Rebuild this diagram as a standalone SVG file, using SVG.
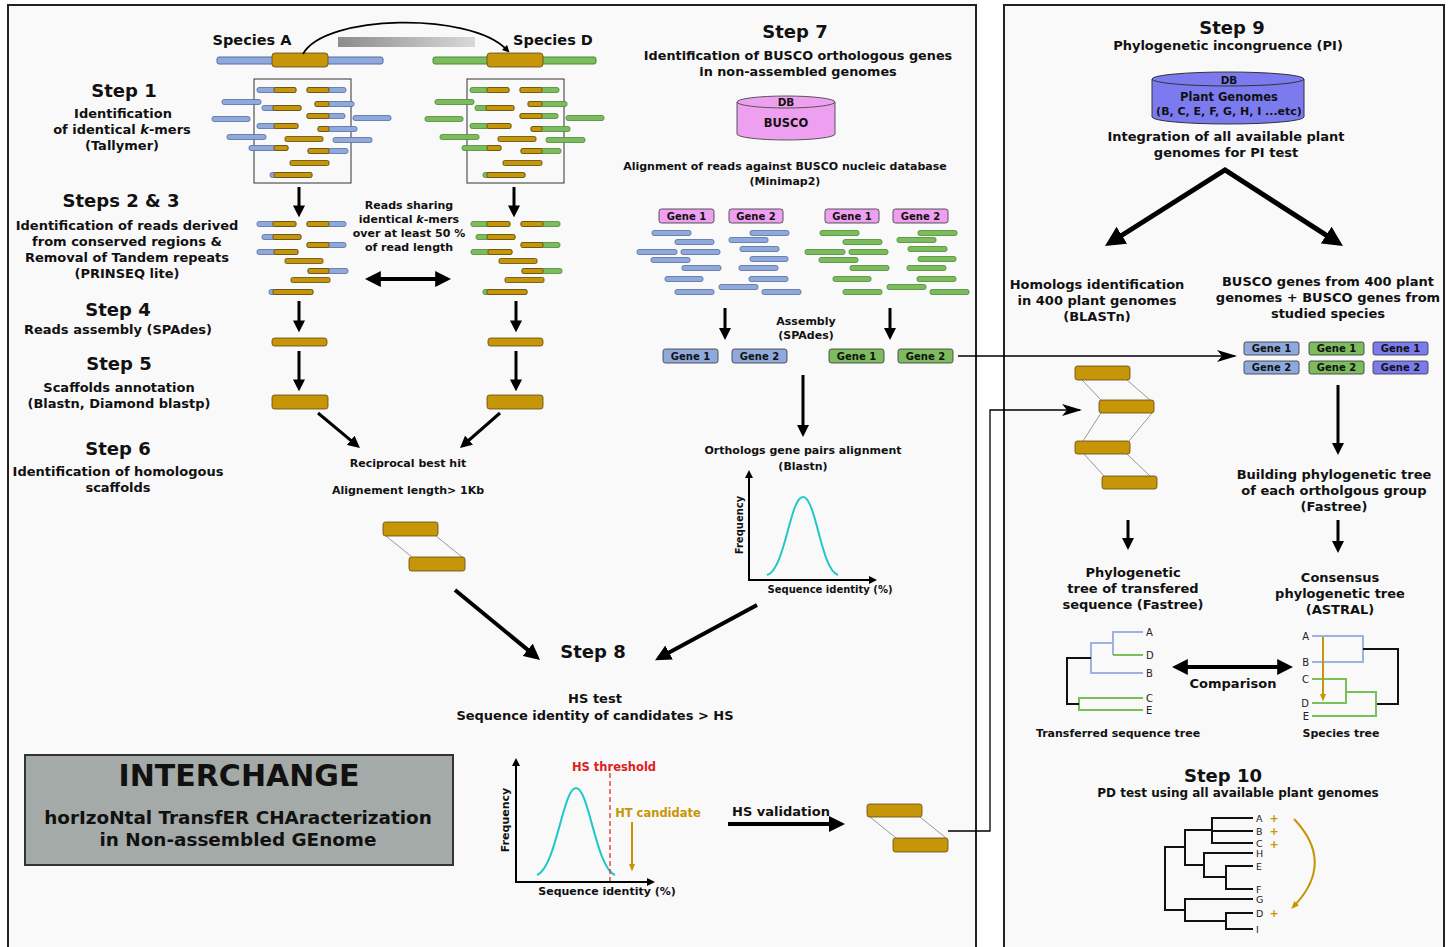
<svg xmlns="http://www.w3.org/2000/svg" width="1449" height="947" viewBox="0 0 1449 947">
<style>
.t{font-family:"DejaVu Sans","Liberation Sans",sans-serif;font-weight:bold;fill:#111;text-anchor:middle}
.h{font-size:18px}
.b{font-size:13px}
.s{font-size:11px}
.gt{font-size:10px}
.lf{font-family:"DejaVu Sans","Liberation Sans",sans-serif;font-size:10px;fill:#222}
.pl{font-family:"DejaVu Sans","Liberation Sans",sans-serif;font-size:11px;font-weight:bold;fill:#c79508;text-anchor:middle}
.gold{fill:#c79508;stroke:#5e4a10;stroke-width:0.8}
.pan{fill:#f9f9f9;stroke:#222;stroke-width:2}
.ar{fill:none;stroke:#000;marker-end:url(#ah)}
.dar{fill:none;stroke:#000;marker-end:url(#ah);marker-start:url(#ah)}
.thin{fill:none;stroke:#000;stroke-width:1.3;marker-end:url(#ahs)}
.gl{stroke:#999;stroke-width:1;fill:none}
.tb{fill:none;stroke:#9db2e2;stroke-width:2}
.tg{fill:none;stroke:#7cbf5a;stroke-width:2}
.tk{fill:none;stroke:#111;stroke-width:2}
.gene{stroke:#444;stroke-width:0.9}
.pk{fill:#ef9ff0}
.bl{fill:#8fa9dc}
.gr{fill:#7dbb5f}
.pu{fill:#7b7bef}
</style>
<defs>
<marker id="ah" viewBox="0 0 10 10" refX="3" refY="5" markerWidth="4" markerHeight="4" orient="auto-start-reverse"><path d="M0,0L10,5L0,10z" fill="#000"/></marker>
<marker id="ahs" viewBox="0 0 20 12" refX="18" refY="6" markerWidth="20" markerHeight="12" markerUnits="userSpaceOnUse" orient="auto"><path d="M0,0L20,6L0,12L5,6z" fill="#000"/></marker>
<marker id="ahg" viewBox="0 0 10 10" refX="3" refY="5" markerWidth="4" markerHeight="4" orient="auto"><path d="M0,1L10,5L0,9z" fill="#c79508"/></marker>
<linearGradient id="gb" x1="0" y1="0" x2="1" y2="0"><stop offset="0" stop-color="#8c8c8c"/><stop offset="1" stop-color="#d9d9d9"/></linearGradient>
<g id="r1">
<rect x="257" y="87.5" width="39" height="5" rx="2"/><rect x="274" y="87.5" width="22" height="5" rx="1.5" fill="#c79508" stroke="#5e4a10"/>
<rect x="307" y="87.5" width="39" height="5" rx="2"/><rect x="307" y="87.5" width="22" height="5" rx="1.5" fill="#c79508" stroke="#5e4a10"/>
<rect x="222" y="99.5" width="39" height="5" rx="2"/>
<rect x="262" y="105.5" width="39" height="5" rx="2"/><rect x="273" y="105.5" width="28" height="5" rx="1.5" fill="#c79508" stroke="#5e4a10"/>
<rect x="315" y="101.5" width="39" height="5" rx="2"/><rect x="315" y="101.5" width="14" height="5" rx="1.5" fill="#c79508" stroke="#5e4a10"/>
<rect x="212" y="116.5" width="38" height="5" rx="2"/>
<rect x="307" y="113.5" width="38" height="5" rx="2"/><rect x="307" y="113.5" width="22" height="5" rx="1.5" fill="#c79508" stroke="#5e4a10"/>
<rect x="353" y="115.5" width="38" height="5" rx="2"/>
<rect x="257" y="123.5" width="41" height="5" rx="2"/><rect x="274" y="123.5" width="24" height="5" rx="1.5" fill="#c79508" stroke="#5e4a10"/>
<rect x="318" y="126.5" width="39" height="5" rx="2"/><rect x="318" y="126.5" width="11" height="5" rx="1.5" fill="#c79508" stroke="#5e4a10"/>
<rect x="227" y="134.5" width="39" height="5" rx="2"/>
<rect x="285" y="136.5" width="38" height="5" rx="1.5" fill="#c79508" stroke="#5e4a10"/>
<rect x="333" y="137.5" width="39" height="5" rx="2"/>
<rect x="249" y="145.5" width="39" height="5" rx="2"/><rect x="274" y="145.5" width="14" height="5" rx="1.5" fill="#c79508" stroke="#5e4a10"/>
<rect x="308" y="148.5" width="40" height="5" rx="2"/><rect x="308" y="148.5" width="21" height="5" rx="1.5" fill="#c79508" stroke="#5e4a10"/>
<rect x="290" y="160.5" width="39" height="5" rx="1.5" fill="#c79508" stroke="#5e4a10"/>
<rect x="270" y="172.5" width="42" height="5" rx="2"/><rect x="274" y="172.5" width="38" height="5" rx="1.5" fill="#c79508" stroke="#5e4a10"/>
</g>
<g id="r2">
<rect x="257" y="221.5" width="39" height="5" rx="2"/><rect x="273" y="221.5" width="23" height="5" rx="1.5" fill="#c79508" stroke="#5e4a10"/>
<rect x="307" y="221.5" width="39" height="5" rx="2"/><rect x="307" y="221.5" width="22" height="5" rx="1.5" fill="#c79508" stroke="#5e4a10"/>
<rect x="262" y="234.5" width="39" height="5" rx="2"/><rect x="273" y="234.5" width="28" height="5" rx="1.5" fill="#c79508" stroke="#5e4a10"/>
<rect x="307" y="242.5" width="39" height="5" rx="2"/><rect x="307" y="242.5" width="22" height="5" rx="1.5" fill="#c79508" stroke="#5e4a10"/>
<rect x="257" y="249.5" width="41" height="5" rx="2"/><rect x="274" y="249.5" width="24" height="5" rx="1.5" fill="#c79508" stroke="#5e4a10"/>
<rect x="285" y="258.5" width="38" height="5" rx="1.5" fill="#c79508" stroke="#5e4a10"/>
<rect x="308" y="268.5" width="40" height="5" rx="2"/><rect x="308" y="268.5" width="21" height="5" rx="1.5" fill="#c79508" stroke="#5e4a10"/>
<rect x="291" y="277.5" width="39" height="5" rx="1.5" fill="#c79508" stroke="#5e4a10"/>
<rect x="269" y="289.5" width="44" height="5" rx="2"/><rect x="273" y="289.5" width="40" height="5" rx="1.5" fill="#c79508" stroke="#5e4a10"/>
</g>
<g id="r3">
<rect x="652" y="230.5" width="39" height="5" rx="2"/><rect x="675" y="239.5" width="39" height="5" rx="2"/>
<rect x="637" y="249.5" width="40" height="5" rx="2"/><rect x="681" y="249.5" width="39" height="5" rx="2"/>
<rect x="651" y="257.5" width="39" height="5" rx="2"/><rect x="682" y="265.5" width="39" height="5" rx="2"/>
<rect x="665" y="276.5" width="38" height="5" rx="2"/><rect x="675" y="289.5" width="39" height="5" rx="2"/>
<rect x="750" y="230.5" width="39" height="5" rx="2"/><rect x="729" y="237.5" width="39" height="5" rx="2"/>
<rect x="740" y="246.5" width="39" height="5" rx="2"/><rect x="750" y="256.5" width="38" height="5" rx="2"/>
<rect x="739" y="265.5" width="39" height="5" rx="2"/><rect x="749" y="276.5" width="39" height="5" rx="2"/>
<rect x="719" y="284.5" width="39" height="5" rx="2"/><rect x="762" y="289.5" width="39" height="5" rx="2"/>
</g>
</defs>

<rect x="0" y="0" width="1449" height="947" fill="#fff"/>
<rect class="pan" x="8" y="5" width="968" height="960"/>
<rect class="pan" x="1004" y="5" width="440" height="960"/>

<g id="species">
<text class="t" x="252" y="45" style="font-size:14.5px">Species A</text>
<text class="t" x="553" y="45" style="font-size:14.5px">Species D</text>
<rect x="338" y="37" width="137" height="10" fill="url(#gb)"/>
<rect x="217" y="57" width="166" height="7" rx="2" class="bl" stroke="#566c9c"/>
<rect x="272" y="53" width="56" height="14" rx="3" class="gold"/>
<rect x="433" y="57" width="163" height="7" rx="2" class="gr" stroke="#4a8a30"/>
<rect x="487" y="53" width="56" height="14" rx="3" class="gold"/>
</g>

<g id="step1">
<text class="t h" x="124" y="97">Step 1</text>
<text class="t b" x="123" y="118">Identification</text>
<text class="t b" x="122" y="134">of identical <tspan font-style="italic">k</tspan>-mers</text>
<text class="t b" x="122" y="150">(Tallymer)</text>
<rect x="254" y="79" width="97" height="104" fill="none" stroke="#333" stroke-width="1"/>
<rect x="467" y="79" width="97" height="104" fill="none" stroke="#333" stroke-width="1"/>
<use href="#r1" fill="#8fa9dc" stroke="#566c9c" stroke-width="0.8"/>
<use href="#r1" x="213" fill="#7dbb5f" stroke="#4a8a30" stroke-width="0.8"/>
</g>

<g id="step23">
<text class="t h" x="121" y="207">Steps 2 &amp; 3</text>
<text class="t b" x="127" y="230">Identification of reads derived</text>
<text class="t b" x="127" y="246">from conserved regions &amp;</text>
<text class="t b" x="127" y="262">Removal of Tandem repeats</text>
<text class="t b" x="127" y="278">(PRINSEQ lite)</text>
<use href="#r2" fill="#8fa9dc" stroke="#566c9c" stroke-width="0.8"/>
<use href="#r2" x="214" fill="#7dbb5f" stroke="#4a8a30" stroke-width="0.8"/>
<text class="t s" x="409" y="209">Reads sharing</text>
<text class="t s" x="409" y="223">identical <tspan font-style="italic">k</tspan>-mers</text>
<text class="t s" x="409" y="237">over at least 50 %</text>
<text class="t s" x="409" y="251">of read length</text>
</g>

<g id="step4">
<text class="t h" x="118" y="316">Step 4</text>
<text class="t b" x="118" y="334">Reads assembly (SPAdes)</text>
<rect x="272" y="338" width="55" height="8" rx="2.5" class="gold"/>
<rect x="488" y="338" width="55" height="8" rx="2.5" class="gold"/>
</g>

<g id="step5">
<text class="t h" x="119" y="370">Step 5</text>
<text class="t b" x="119" y="392">Scaffolds annotation</text>
<text class="t b" x="119" y="408">(Blastn, Diamond blastp)</text>
<rect x="272" y="395" width="56" height="14" rx="2.5" class="gold"/>
<rect x="487" y="395" width="56" height="14" rx="2.5" class="gold"/>
</g>

<g id="step6">
<text class="t h" x="118" y="455">Step 6</text>
<text class="t b" x="118" y="476">Identification of homologous</text>
<text class="t b" x="118" y="492">scaffolds</text>
<text class="t s" x="408" y="467">Reciprocal best hit</text>
<text class="t s" x="408" y="494">Alignement length&gt; 1Kb</text>
<line class="gl" x1="386" y1="536" x2="412" y2="557"/>
<line class="gl" x1="436" y1="536" x2="462" y2="557"/>
<rect x="383" y="522" width="55" height="14" rx="2.5" class="gold"/>
<rect x="409" y="557" width="56" height="14" rx="2.5" class="gold"/>
</g>

<g id="step7">
<text class="t h" x="795" y="38">Step 7</text>
<text class="t b" x="798" y="60" style="font-size:12.8px">Identification of BUSCO orthologous genes</text>
<text class="t b" x="798" y="76" style="font-size:12.8px">in non-assembled genomes</text>
<path d="M737,102 V134 A49,6 0 0 0 835,134 V102 Z" class="pk" stroke="#555" stroke-width="1"/>
<ellipse cx="786" cy="102" rx="49" ry="6" class="pk" stroke="#555" stroke-width="1"/>
<text class="t" x="786" y="106" style="font-size:10.5px">DB</text>
<text class="t" x="786" y="127" style="font-size:11.5px">BUSCO</text>
<text class="t s" x="785" y="170">Alignment of reads against BUSCO nucleic database</text>
<text class="t s" x="785" y="185">(Minimap2)</text>
<rect x="659" y="209" width="55" height="14" rx="2.5" class="pk gene"/>
<rect x="729" y="209" width="54" height="14" rx="2.5" class="pk gene"/>
<rect x="825" y="209" width="54" height="14" rx="2.5" class="pk gene"/>
<rect x="893" y="209" width="55" height="14" rx="2.5" class="pk gene"/>
<text class="t gt" x="686.5" y="219.5">Gene 1</text>
<text class="t gt" x="756" y="219.5">Gene 2</text>
<text class="t gt" x="852" y="219.5">Gene 1</text>
<text class="t gt" x="920.5" y="219.5">Gene 2</text>
<use href="#r3" fill="#8fa9dc" stroke="#566c9c" stroke-width="0.8"/>
<use href="#r3" x="168" fill="#7dbb5f" stroke="#4a8a30" stroke-width="0.8"/>
<text class="t s" x="806" y="325">Assembly</text>
<text class="t s" x="806" y="339">(SPAdes)</text>
<rect x="663" y="349" width="55" height="14" rx="2.5" class="bl gene"/>
<rect x="732" y="349" width="55" height="14" rx="2.5" class="bl gene"/>
<rect x="829" y="349" width="55" height="14" rx="2.5" class="gr gene"/>
<rect x="898" y="349" width="55" height="14" rx="2.5" class="gr gene"/>
<text class="t gt" x="690.5" y="359.5">Gene 1</text>
<text class="t gt" x="759.5" y="359.5">Gene 2</text>
<text class="t gt" x="856.5" y="359.5">Gene 1</text>
<text class="t gt" x="925.5" y="359.5">Gene 2</text>
<text class="t s" x="803" y="454">Orthologs gene pairs alignment</text>
<text class="t s" x="803" y="470">(Blastn)</text>
<path d="M767,575 C785,570 790,497 803,497 C816,497 821,570 838,575" fill="none" stroke="#22c8c8" stroke-width="2"/>
<text class="t" x="0" y="0" style="font-size:10px" transform="translate(743,525) rotate(-90)">Frequency</text>
<text class="t" x="830" y="593" style="font-size:10px">Sequence identity (%)</text>
</g>

<g id="step8">
<text class="t h" x="593" y="658">Step 8</text>
<text class="t b" x="595" y="703">HS test</text>
<text class="t b" x="595" y="720">Sequence identity of candidates &gt; HS</text>
<path d="M537,875 C556,868 563,788 576,788 C589,788 596,868 615,875" fill="none" stroke="#22c8c8" stroke-width="2"/>
<line x1="610" y1="773" x2="610" y2="882" stroke="#e03030" stroke-width="1.3" stroke-dasharray="5,3"/>
<text class="t" x="614" y="771" style="font-size:11.5px;fill:#e02020">HS threshold</text>
<text class="t" x="658" y="817" style="font-size:11.5px;fill:#c79508">HT candidate</text>
<text class="t" x="0" y="0" style="font-size:11px" transform="translate(509,820) rotate(-90)">Frequency</text>
<text class="t" x="607" y="895" style="font-size:11px">Sequence identity (%)</text>
<text class="t b" x="781" y="816">HS validation</text>
<line class="gl" x1="870" y1="817" x2="896" y2="838"/>
<line class="gl" x1="920" y1="817" x2="946" y2="838"/>
<rect x="867" y="804" width="55" height="13" rx="2.5" class="gold"/>
<rect x="893" y="838" width="55" height="14" rx="2.5" class="gold"/>
</g>

<g id="interchange">
<rect x="25" y="755" width="428" height="110" fill="#a4aaa8" stroke="#333" stroke-width="2"/>
<text class="t" x="239" y="786" style="font-size:30px">INTERCHANGE</text>
<text class="t" x="238" y="824" style="font-size:18.4px">horIzoNtal TransfER CHAracterization</text>
<text class="t" x="238" y="846" style="font-size:18.4px">in Non-assembled GEnome</text>
</g>

<g id="step9">
<text class="t h" x="1232" y="34">Step 9</text>
<text class="t b" x="1228" y="50">Phylogenetic incongruence (PI)</text>
<path d="M1152,79 V117 A76,7 0 0 0 1304,117 V79 Z" class="pu" stroke="#333" stroke-width="1"/>
<ellipse cx="1228" cy="79" rx="76" ry="7" class="pu" stroke="#333" stroke-width="1"/>
<text class="t" x="1229" y="84" style="font-size:10.5px">DB</text>
<text class="t" x="1229" y="101" style="font-size:11.5px">Plant Genomes</text>
<text class="t" x="1229" y="115" style="font-size:11px">(B, C, E, F, G, H, I  ...etc)</text>
<text class="t b" x="1226" y="141">Integration of all available plant</text>
<text class="t b" x="1226" y="157">genomes for PI test</text>
<text class="t b" x="1097" y="289">Homologs identification</text>
<text class="t b" x="1097" y="305">in 400 plant genomes</text>
<text class="t b" x="1097" y="321">(BLASTn)</text>
<text class="t b" x="1328" y="286">BUSCO genes from 400 plant</text>
<text class="t b" x="1328" y="302">genomes + BUSCO genes from</text>
<text class="t b" x="1328" y="318">studied species</text>
<rect x="1244" y="342" width="55" height="13" rx="2" class="bl gene"/>
<rect x="1309" y="342" width="55" height="13" rx="2" class="gr gene"/>
<rect x="1373" y="342" width="55" height="13" rx="2" class="pu gene"/>
<rect x="1244" y="361" width="55" height="13" rx="2" class="bl gene"/>
<rect x="1309" y="361" width="55" height="13" rx="2" class="gr gene"/>
<rect x="1373" y="361" width="55" height="13" rx="2" class="pu gene"/>
<text class="t gt" x="1271.5" y="352">Gene 1</text>
<text class="t gt" x="1336.5" y="352">Gene 1</text>
<text class="t gt" x="1400.5" y="352">Gene 1</text>
<text class="t gt" x="1271.5" y="371">Gene 2</text>
<text class="t gt" x="1336.5" y="371">Gene 2</text>
<text class="t gt" x="1400.5" y="371">Gene 2</text>
<line class="gl" x1="1082" y1="380" x2="1101" y2="400"/>
<line class="gl" x1="1127" y1="380" x2="1150" y2="400"/>
<line class="gl" x1="1101" y1="413" x2="1083" y2="441"/>
<line class="gl" x1="1152" y1="413" x2="1129" y2="441"/>
<line class="gl" x1="1084" y1="454" x2="1104" y2="476"/>
<line class="gl" x1="1127" y1="454" x2="1150" y2="476"/>
<rect x="1075" y="366" width="55" height="14" rx="2.5" class="gold"/>
<rect x="1099" y="400" width="55" height="13" rx="2.5" class="gold"/>
<rect x="1075" y="441" width="55" height="13" rx="2.5" class="gold"/>
<rect x="1102" y="476" width="55" height="13" rx="2.5" class="gold"/>
<text class="t b" x="1334" y="479">Building phylogenetic tree</text>
<text class="t b" x="1334" y="495">of each ortholgous group</text>
<text class="t b" x="1334" y="511">(Fastree)</text>
<text class="t b" x="1133" y="577">Phylogenetic</text>
<text class="t b" x="1133" y="593">tree of transfered</text>
<text class="t b" x="1133" y="609">sequence (Fastree)</text>
<text class="t b" x="1340" y="582">Consensus</text>
<text class="t b" x="1340" y="598">phylogenetic tree</text>
<text class="t b" x="1340" y="614">(ASTRAL)</text>
<path class="tb" d="M1143,632 H1113 V655 M1113,643 H1091 V673 H1143"/>
<path class="tg" d="M1113,655 H1143 M1143,698 H1079 V710 H1143"/>
<path class="tk" d="M1091,658 H1067 V704 H1079"/>
<text class="lf" x="1146" y="636">A</text>
<text class="lf" x="1146" y="659">D</text>
<text class="lf" x="1146" y="677">B</text>
<text class="lf" x="1146" y="702">C</text>
<text class="lf" x="1146" y="714">E</text>
<text class="t" x="1233" y="688" style="font-size:13px">Comparison</text>
<path class="tb" d="M1312,636 H1363 V662 H1312"/>
<path class="tk" d="M1363,649 H1398 V704 H1376"/>
<path class="tg" d="M1312,679 H1346 V703 H1312 M1346,692 H1376 V716 H1312"/>
<text class="lf" x="1309" y="640" text-anchor="end">A</text>
<text class="lf" x="1309" y="666" text-anchor="end">B</text>
<text class="lf" x="1309" y="683" text-anchor="end">C</text>
<text class="lf" x="1309" y="707" text-anchor="end">D</text>
<text class="lf" x="1309" y="720" text-anchor="end">E</text>
<line x1="1323" y1="637" x2="1323" y2="696" stroke="#c79508" stroke-width="2" marker-end="url(#ahg)"/>
<text class="t" x="1118" y="737" style="font-size:11px">Transferred sequence tree</text>
<text class="t" x="1341" y="737" style="font-size:11px">Species tree</text>
</g>

<g id="step10">
<text class="t h" x="1223" y="782">Step 10</text>
<text class="t" x="1238" y="797" style="font-size:12px">PD test using all available plant genomes</text>
<path class="tk" d="M1253,818 H1212 V843 H1253 M1212,831 H1253 M1212,830 H1185 V865 H1204 M1253,853 H1204 V877 H1226 M1253,866 H1226 V889 H1253 M1185,847 H1165 V910 H1185 M1253,899 H1185 V921 H1226 M1253,913 H1226 V929 H1253"/>
<text class="lf" x="1256" y="822" style="font-size:9.5px">A</text>
<text class="lf" x="1256" y="835" style="font-size:9.5px">B</text>
<text class="lf" x="1256" y="847" style="font-size:9.5px">C</text>
<text class="lf" x="1256" y="857" style="font-size:9.5px">H</text>
<text class="lf" x="1256" y="870" style="font-size:9.5px">E</text>
<text class="lf" x="1256" y="893" style="font-size:9.5px">F</text>
<text class="lf" x="1256" y="903" style="font-size:9.5px">G</text>
<text class="lf" x="1256" y="917" style="font-size:9.5px">D</text>
<text class="lf" x="1256" y="933" style="font-size:9.5px">I</text>
<text class="pl" x="1274" y="822">+</text>
<text class="pl" x="1274" y="835">+</text>
<text class="pl" x="1274" y="848">+</text>
<text class="pl" x="1274" y="917">+</text>
<path d="M1294,819 Q1335,862 1295,905" fill="none" stroke="#c79508" stroke-width="2" marker-end="url(#ahg)"/>
</g>

<g id="connectors">
<path d="M303,54 C325,14 470,12 506,49" fill="none" stroke="#000" stroke-width="1.8" marker-end="url(#ah)"/>
<line class="ar" stroke-width="3" x1="299" y1="187" x2="299" y2="209"/>
<line class="ar" stroke-width="3" x1="514" y1="187" x2="514" y2="209"/>
<line class="dar" stroke-width="4" x1="376" y1="279" x2="440" y2="279"/>
<line class="ar" stroke-width="3" x1="299" y1="301" x2="299" y2="324"/>
<line class="ar" stroke-width="3" x1="516" y1="301" x2="516" y2="324"/>
<line class="ar" stroke-width="3" x1="299" y1="351" x2="299" y2="383"/>
<line class="ar" stroke-width="3" x1="516" y1="351" x2="516" y2="383"/>
<line class="ar" stroke-width="3" x1="318" y1="413" x2="353.5" y2="442.6"/>
<line class="ar" stroke-width="3" x1="500" y1="413" x2="466.3" y2="442.5"/>
<line class="ar" stroke-width="4" x1="455" y1="590" x2="531.4" y2="652.9"/>
<line class="ar" stroke-width="4" x1="757" y1="605" x2="664.9" y2="654.8"/>
<line class="ar" stroke-width="3" x1="725" y1="308" x2="725" y2="331.6"/>
<line class="ar" stroke-width="3" x1="890" y1="308" x2="890" y2="331.6"/>
<line class="ar" stroke-width="3" x1="803" y1="375" x2="803" y2="428.6"/>
<path class="ar" stroke-width="2" d="M749,580 V475.6"/>
<path class="ar" stroke-width="2" d="M748,580 H871.4"/>
<path class="ar" stroke-width="2" d="M516,882 V763.6"/>
<path class="ar" stroke-width="2" d="M515,882 H649.4"/>
<line x1="632" y1="822" x2="632" y2="866" stroke="#c79508" stroke-width="2" marker-end="url(#ahg)"/>
<line class="ar" stroke-width="4" x1="728" y1="824" x2="833.8" y2="824"/>
<line class="thin" x1="958" y1="356" x2="1235" y2="356"/>
<path class="thin" d="M948,831 H990 V410 H1080"/>
<path class="dar" stroke-width="5" stroke-linejoin="miter" d="M1116.8,238.5 L1225,170 L1331.2,238.4"/>
<line class="ar" stroke-width="3" x1="1338" y1="385" x2="1338" y2="446.6"/>
<line class="ar" stroke-width="3" x1="1128" y1="520" x2="1128" y2="541.6"/>
<line class="ar" stroke-width="3" x1="1338" y1="520" x2="1338" y2="544.6"/>
<line class="dar" stroke-width="4" x1="1183" y1="667" x2="1282" y2="667"/>
</g>
</svg>
